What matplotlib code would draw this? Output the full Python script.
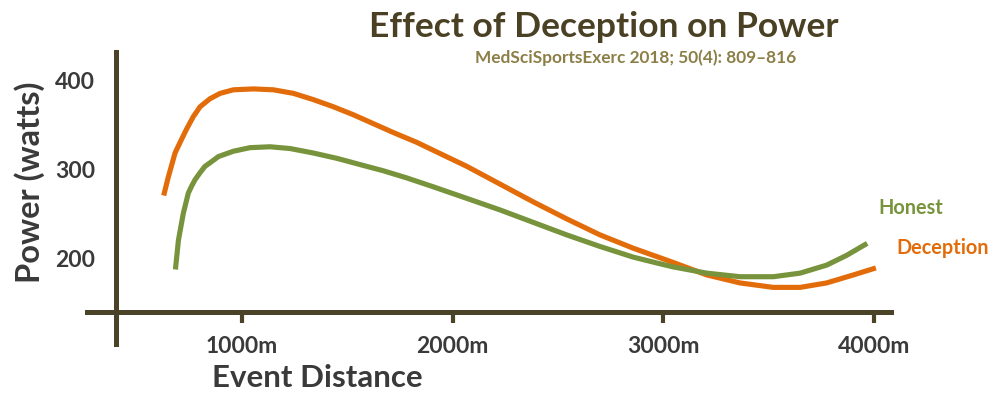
import matplotlib
matplotlib.use("Agg")
import matplotlib.pyplot as plt

plt.rcParams['font.family'] = ['Lato', 'DejaVu Sans']
plt.rcParams['font.weight'] = 'bold'

# distance (m) / power (W)
deception_dist = [631, 650, 682, 706, 737, 769, 801, 848, 896, 959, 1054, 1149, 1244, 1338,
                  1433, 1528, 1623, 1718, 1829, 1908, 2067, 2225, 2383, 2541, 2699, 2857,
                  2976, 3047, 3206, 3364, 3522, 3649, 3775, 3902, 3997]
deception_power = [273, 291, 318, 330, 345, 359, 370, 379, 385, 389, 390, 389, 385, 378,
                   370, 361, 351, 341, 330, 321, 303, 283, 263, 244, 226, 211,
                   201, 195, 181, 172, 167, 167, 172, 181, 188]

honest_dist = [685, 698, 721, 745, 761, 777, 801, 824, 848, 888, 959, 1038, 1133, 1228, 1338,
               1450, 1560, 1671, 1782, 1908, 2067, 2225, 2383, 2541, 2699, 2857, 2976,
               3047, 3206, 3364, 3522, 3649, 3775, 3870, 3957]
honest_power = [190, 220, 250, 273, 281, 288, 296, 303, 307, 314, 320, 324, 325, 323, 318,
                312, 305, 298, 290, 280, 267, 254, 240, 226, 213, 201, 194,
                190, 183, 179, 179, 183, 192, 203, 215]

xticks = [1000, 2000, 3000, 4000]
xtick_labels = ['1000m', '2000m', '3000m', '4000m']
yticks = [200, 300, 400]

axis_col = '#4a4328'
orange = '#e36c0a'
green = '#77933c'
text_col = '#3a3a3a'

fig = plt.figure(figsize=(10, 3.99), dpi=100)
ax = fig.add_axes([0, 0, 1, 1])
ax.set_xlim(-149, 4598)
ax.set_ylim(41.6, 489.9)

ax.plot(deception_dist, deception_power, color=orange, lw=3.7, solid_joinstyle='round')
ax.plot(honest_dist, honest_power, color=green, lw=3.7, solid_joinstyle='round')

for side in ['top', 'right']:
    ax.spines[side].set_visible(False)
ax.spines['bottom'].set_position(('data', 139.3))
ax.spines['bottom'].set_bounds(264, 4080)
ax.spines['left'].set_position(('data', 402))
ax.spines['left'].set_bounds(103.4, 431.5)
for side in ['bottom', 'left']:
    ax.spines[side].set_color(axis_col)
    ax.spines[side].set_linewidth(3.6)

ax.set_xticks(xticks)
ax.set_xticklabels(xtick_labels)
ax.set_yticks(yticks)
ax.tick_params(axis='x', direction='out', length=8, width=3, color=axis_col,
               pad=9, labelsize=16.5, labelcolor=text_col)
ax.tick_params(axis='y', length=0, pad=15, labelsize=16.5, labelcolor=text_col)

fig.text(0.317, 0.053, 'Event Distance', ha='center', va='center', fontsize=22.5, color=text_col)
fig.text(0.030, 0.544, 'Power (watts)', ha='center', va='center', rotation=90,
         fontsize=23.5, color=text_col)
fig.text(0.604, 0.932, 'Effect of Deception on Power', ha='center', va='center',
         fontsize=25.5, color='#4a4124')
fig.text(0.636, 0.855, 'MedSciSportsExerc 2018; 50(4): 809\u2013816', ha='center', va='center',
         fontsize=12.4, color='#8b7e46')
fig.text(0.878, 0.479, 'Honest', ha='left', va='center', fontsize=14.3, color=green)
fig.text(0.896, 0.378, 'Deception', ha='left', va='center', fontsize=14.3, color=orange)

fig.savefig('out.png', dpi=100)
